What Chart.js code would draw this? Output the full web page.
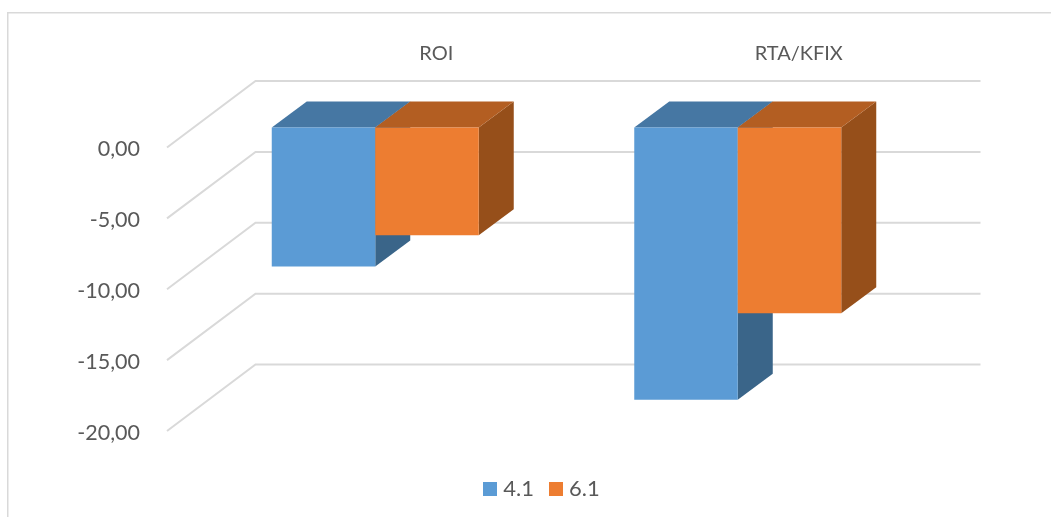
<!DOCTYPE html>
<html><head><meta charset="utf-8">
<style>html,body{margin:0;padding:0;background:#fff}#w{width:1051px;height:517px;position:relative}</style>
<script src="https://cdn.jsdelivr.net/npm/chart.js@4"></script>
</head><body><div id="w"><canvas id="c" width="1051" height="517"></canvas></div>
<script>
const categories = ["ROI", "RTA/KFIX"];
const seriesNames = ["4.1", "6.1"];
const series41 = [-9.8, -19.2];
const series61 = [-7.6, -13.1];
const colorsFront = ["#5B9BD5", "#ED7D31"];
const colorsTop = ["#4677A3", "#B35E22"];
const colorsSide = ["#3A6589", "#964F1A"];

function box(col){const k=document.createElement('canvas');k.width=14;k.height=14;const g=k.getContext('2d');g.fillStyle=col;g.fillRect(0,0,14,14);return k;}
const poly=(ctx,col,p)=>{ctx.fillStyle=col;ctx.beginPath();p.forEach((q,i)=>i?ctx.lineTo(q[0],q[1]):ctx.moveTo(q[0],q[1]));ctx.closePath();ctx.fill();};

const WALL={dx:88.5,dy:-66.5}, FRONT={dx:27,dy:-20}, DEPTH={dx:35,dy:-26};
const plugin3d={
  id:'plugin3d',
  beforeDraw(chart){
    const c=chart.ctx;c.save();c.strokeStyle='#D9D9D9';c.lineWidth=1.5;c.beginPath();
    c.moveTo(1051,12.75);c.lineTo(7.75,12.75);c.lineTo(7.75,517);c.stroke();c.restore();
  },
  afterLayout(chart){
    const l=chart.legend;const sh=544-(l.left+l.right)/2;l.left+=sh;l.right+=sh;
    const h=l.bottom-l.top;l.top=483.5-h/2;l.bottom=483.5+h/2;
  },
  beforeDatasetsDraw(chart){
    const c=chart.ctx,ys=chart.scales.y,a=chart.chartArea;
    c.save();c.strokeStyle='#D9D9D9';c.lineWidth=2;
    ys.ticks.forEach(t=>{
      const y=ys.getPixelForValue(t.value);
      c.beginPath();c.moveTo(a.left,y);c.lineTo(a.left+WALL.dx,y+WALL.dy);c.lineTo(a.right+WALL.dx,y+WALL.dy);c.stroke();
    });
    c.restore();
    chart.data.datasets.forEach((d,i)=>{
      chart.getDatasetMeta(i).data.forEach(el=>{
        const p=el.getProps(['x','y','base','width'],true);
        const L=p.x-p.width/2+FRONT.dx,R=p.x+p.width/2+FRONT.dx,T=p.base+FRONT.dy,B=p.y+FRONT.dy;
        poly(c,colorsSide[i],[[R,T],[R+DEPTH.dx,T+DEPTH.dy],[R+DEPTH.dx,B+DEPTH.dy],[R,B]]);
        poly(c,colorsTop[i],[[L,T],[L+DEPTH.dx,T+DEPTH.dy],[R+DEPTH.dx,T+DEPTH.dy],[R,T]]);
        c.save();c.translate(FRONT.dx,FRONT.dy);el.draw(c);c.restore();
      });
    });
    return false;
  }
};

new Chart(document.getElementById('c'),{
  type:'bar',
  data:{labels:categories,datasets:[
    {label:seriesNames[0],data:series41,backgroundColor:colorsFront[0],pointStyle:box(colorsFront[0])},
    {label:seriesNames[1],data:series61,backgroundColor:colorsFront[1],pointStyle:box(colorsFront[1])}
  ]},
  plugins:[plugin3d],
  options:{
    responsive:false,animation:false,
    layout:{padding:{left:0,right:159,top:0,bottom:34}},
    datasets:{bar:{categoryPercentage:0.571,barPercentage:1,borderWidth:0}},
    plugins:{
      tooltip:{enabled:false},
      legend:{position:'bottom',labels:{usePointStyle:true,pointStyleWidth:4,padding:20,color:'#595959',font:{family:'Lato',size:22}}}
    },
    scales:{
      x:{position:'top',afterFit(s){s.height=147.5;},grid:{display:false,drawTicks:false},border:{display:false},
         ticks:{color:'#595959',font:{family:'Lato',size:20},padding:82,labelOffset:88,maxRotation:0}},
      y:{min:-20,max:0,afterFit(s){s.width=167;},grid:{display:false,drawTicks:false},border:{display:false},
         ticks:{stepSize:5,color:'#595959',font:{family:'Lato',size:21.5},padding:27,labelOffset:2,callback:v=>v.toFixed(2).replace('.',',')}}
    }
  }
});
</script></body></html>
